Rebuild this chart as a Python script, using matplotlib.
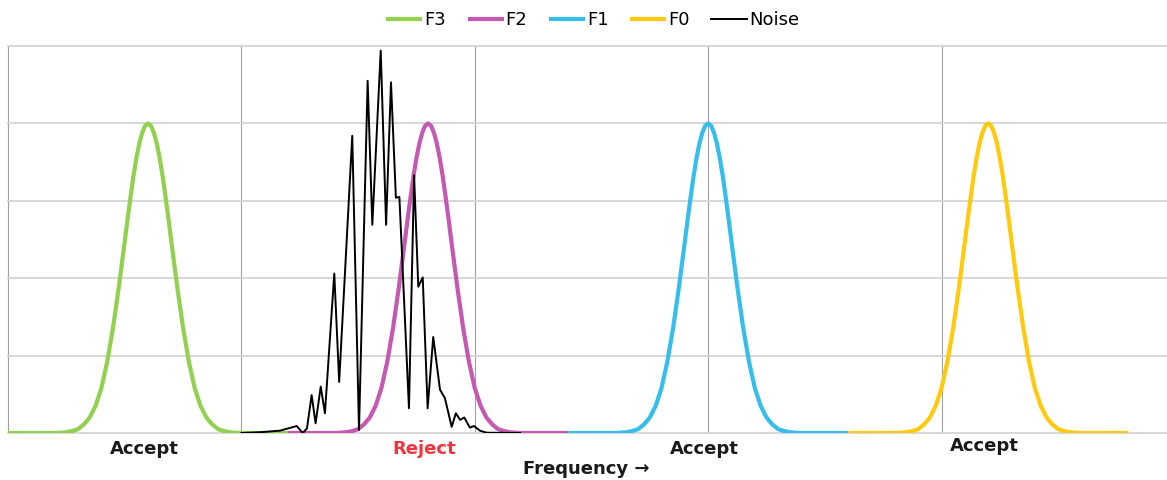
import numpy as np
import matplotlib.pyplot as plt
from matplotlib.transforms import blended_transform_factory

# series names, colours and centres of the bell curves
names = ['F3', 'F2', 'F1', 'F0']
colors = ['#92d050', '#c558b0', '#35bdec', '#ffc90e']
centers = [0.6, 1.8, 3.0, 4.2]
half_span = 0.6

# bell profile (offset from centre, height)
bell_dx = [-0.4, -0.375, -0.35, -0.325, -0.3, -0.275, -0.25, -0.225, -0.2,
           -0.175, -0.15, -0.125, -0.1, -0.0875, -0.075, -0.0625, -0.05,
           -0.0375, -0.025, -0.0125, 0.0, 0.0125, 0.025, 0.0375, 0.05,
           0.0625, 0.075, 0.0875, 0.1, 0.125, 0.15, 0.175, 0.2, 0.225, 0.25,
           0.275, 0.3, 0.325, 0.35, 0.375, 0.4]
bell_y = [0.0, 0.004, 0.01, 0.025, 0.05, 0.11, 0.20, 0.35, 0.58, 0.92, 1.36,
          1.89, 2.47, 2.77, 3.05, 3.32, 3.55, 3.74, 3.88, 3.97, 4.00, 3.97,
          3.88, 3.74, 3.55, 3.32, 3.05, 2.77, 2.47, 1.89, 1.36, 0.92, 0.58,
          0.35, 0.20, 0.11, 0.05, 0.025, 0.01, 0.004, 0.0]

# noise trace
noise_x = [1.00, 1.08, 1.165, 1.237, 1.263, 1.281, 1.301, 1.318, 1.340, 1.358,
           1.398, 1.419, 1.475, 1.504, 1.541, 1.561, 1.597, 1.620, 1.641,
           1.662, 1.677, 1.718, 1.740, 1.758, 1.777, 1.798, 1.822, 1.851,
           1.872, 1.901, 1.919, 1.937, 1.955, 1.979, 1.997, 2.022, 2.051,
           2.194]
noise_y = [0.0, 0.01, 0.03, 0.09, 0.0, 0.06, 0.49, 0.125, 0.60, 0.255, 2.06,
           0.66, 3.84, 0.04, 4.55, 2.69, 4.94, 2.69, 4.53, 3.04, 3.05, 0.32,
           3.33, 1.89, 2.01, 0.32, 1.24, 0.56, 0.45, 0.08, 0.255, 0.17, 0.20,
           0.07, 0.09, 0.03, 0.004, 0.0]

decisions = ['Accept', 'Reject', 'Accept', 'Accept']
decision_colors = ['#1a1a1a', '#f0353f', '#1a1a1a', '#1a1a1a']

fig = plt.figure(figsize=(11.67, 4.8), dpi=100)
ax = fig.add_axes([8 / 1167, 47 / 480, 1 - 8 / 1167, 387 / 480])

for name, c, col in zip(names, centers, colors):
    xs = [c - half_span] + [c + d for d in bell_dx] + [c + half_span]
    ys = [0] + bell_y + [0]
    ax.plot(xs, ys, color=col, lw=3.0, label=name, solid_capstyle='butt',
            solid_joinstyle='round')

ax.plot(noise_x, noise_y, color='black', lw=1.4, label='Noise',
        solid_joinstyle='round')

ax.set_xlim(0, 4.966)
ax.set_ylim(0, 5)
ax.set_xticks(range(5))
ax.set_yticks(range(6))
ax.tick_params(length=0, labelbottom=False, labelleft=False)
ax.set_axisbelow(True)
ax.xaxis.grid(True, color='#a0a0a0', lw=0.8)
ax.yaxis.grid(True, color='#d4d4d4', lw=1.3)
for line in ax.get_xgridlines() + ax.get_ygridlines():
    line.set_clip_on(False)
for sp in ax.spines.values():
    sp.set_visible(False)

trans = blended_transform_factory(ax.transData, ax.transAxes)
for i, (c, txt, tc) in enumerate(zip(centers, decisions, decision_colors)):
    yoff = -0.042 if i < 3 else -0.034
    ax.text(c - 0.015, yoff, txt, transform=trans, ha='center', va='center',
            fontsize=13, fontweight='bold', color=tc)

fig.text(0.502, 1 - 469 / 480, 'Frequency \u2192', ha='center', va='center',
         fontsize=13, fontweight='bold', color='#1a1a1a')

fig.legend(loc='center', bbox_to_anchor=(0.508, 1 - 20 / 480), ncol=5,
           frameon=False, fontsize=13, handlelength=2.0, handletextpad=0.1,
           columnspacing=1.2, borderaxespad=0)

fig.savefig('out.png', dpi=100)
